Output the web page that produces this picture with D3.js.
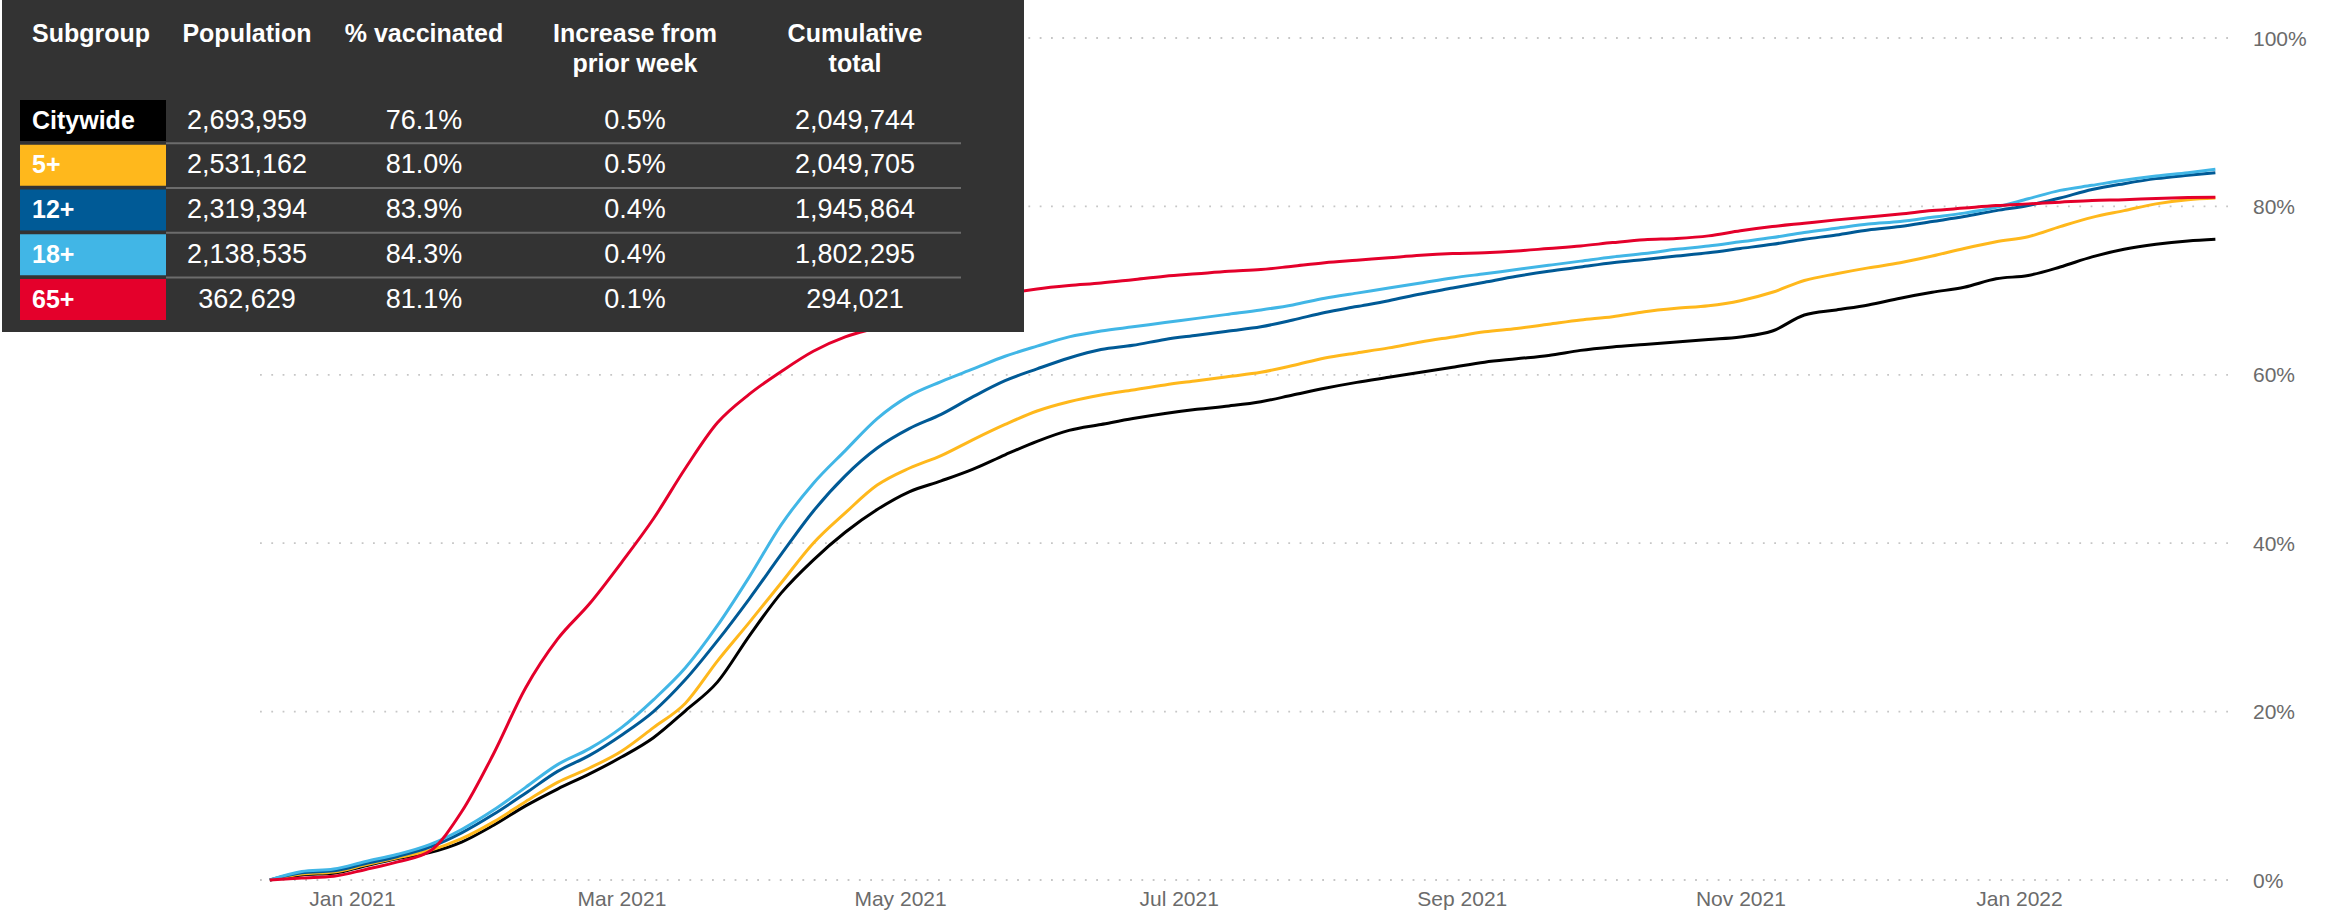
<!DOCTYPE html>
<html><head><meta charset="utf-8">
<script src="https://cdn.jsdelivr.net/npm/d3@7"></script>
<style>html,body{margin:0;padding:0;background:#fff;} svg{display:block;}</style>
</head><body>
<svg id="chart" width="2331" height="913"></svg>
<script>
// ---------- DATA ----------
const dates = [
 "2020-12-14","2020-12-21","2020-12-28",
 "2021-01-04","2021-01-11","2021-01-18","2021-01-25",
 "2021-02-01","2021-02-08","2021-02-15","2021-02-22",
 "2021-03-01","2021-03-08","2021-03-15","2021-03-22","2021-03-29",
 "2021-04-05","2021-04-12","2021-04-19","2021-04-26",
 "2021-05-03","2021-05-10","2021-05-17","2021-05-24","2021-05-31",
 "2021-06-07","2021-06-14","2021-06-21","2021-06-28",
 "2021-07-05","2021-07-12","2021-07-19","2021-07-26",
 "2021-08-02","2021-08-09","2021-08-16","2021-08-23","2021-08-30",
 "2021-09-06","2021-09-13","2021-09-20","2021-09-27",
 "2021-10-04","2021-10-11","2021-10-18","2021-10-25",
 "2021-11-01","2021-11-08","2021-11-15","2021-11-22","2021-11-29",
 "2021-12-06","2021-12-13","2021-12-20","2021-12-27",
 "2022-01-03","2022-01-10","2022-01-17","2022-01-24","2022-01-31",
 "2022-02-07","2022-02-13"
];
const citywide = [
 0,0.6,0.8,
 1.7,2.55,3.25,4.5,
 6.5,8.8,10.8,12.6,
 14.6,16.9,20.1,23.5,29.0,
 34.1,38.0,41.3,44.0,
 46.1,47.4,48.8,50.5,52.1,
 53.4,54.1,54.8,55.4,
 55.9,56.3,56.8,57.6,
 58.4,59.1,59.7,60.3,60.9,
 61.5,61.9,62.3,62.9,
 63.3,63.6,63.9,64.2,
 64.5,65.2,67.1,67.7,68.3,
 69.1,69.8,70.4,71.4,
 71.8,72.8,74.0,74.9,75.5,
 75.9,76.1
];
const age5 = [
 0,0.7,0.95,
 1.8,2.65,3.5,4.9,
 6.9,9.3,11.6,13.3,
 15.3,18.1,21.0,26.0,30.6,
 35.3,40.0,43.6,46.9,
 48.9,50.4,52.3,54.1,55.7,
 56.8,57.6,58.2,58.8,
 59.3,59.8,60.3,61.1,
 62.0,62.6,63.2,63.9,64.5,
 65.1,65.5,66.0,66.5,
 66.9,67.5,67.9,68.2,
 68.8,69.8,71.2,72.0,72.7,
 73.3,74.1,75.0,75.8,
 76.4,77.6,78.7,79.5,80.3,
 80.8,81.0
];
const age12 = [
 0,0.85,1.1,
 1.95,2.8,3.9,5.6,
 7.8,10.3,12.9,14.8,
 17.2,20.0,23.8,28.4,33.4,
 38.7,43.8,48.0,51.3,
 53.6,55.3,57.4,59.3,60.7,
 62.0,63.0,63.5,64.2,
 64.7,65.2,65.7,66.5,
 67.4,68.1,68.8,69.6,70.3,
 71.0,71.7,72.3,72.8,
 73.3,73.7,74.1,74.5,
 75.0,75.5,76.1,76.6,77.2,
 77.6,78.2,78.8,79.5,
 80.1,81.0,82.0,82.7,83.3,
 83.7,84.0
];
const age18 = [
 0,1.0,1.3,
 2.2,3.05,4.2,6.0,
 8.3,11.0,13.7,15.6,
 18.1,21.4,25.2,30.2,36.0,
 42.2,47.1,51.0,54.8,
 57.5,59.2,60.7,62.2,63.4,
 64.5,65.2,65.7,66.2,
 66.7,67.2,67.7,68.3,
 69.1,69.7,70.3,70.9,71.5,
 72.0,72.5,73.0,73.5,
 74.0,74.4,74.9,75.3,
 75.8,76.3,76.9,77.4,77.9,
 78.2,78.7,79.2,79.9,
 80.9,81.9,82.5,83.1,83.6,
 84.0,84.4
];
const age65 = [
 0,0.25,0.45,
 1.25,2.15,3.4,8.1,
 15.0,22.8,28.6,32.8,
 37.7,42.9,48.9,54.3,57.7,
 60.4,62.8,64.5,65.6,
 66.7,67.8,68.8,69.6,70.2,
 70.6,70.9,71.3,71.7,
 72.0,72.3,72.5,72.9,
 73.3,73.6,73.9,74.2,74.4,
 74.5,74.7,75.0,75.3,
 75.7,76.05,76.2,76.5,
 77.1,77.6,78.0,78.4,78.75,
 79.1,79.5,79.8,80.1,
 80.3,80.5,80.7,80.8,80.95,
 81.05,81.1
];
const yTicks = [0, 20, 40, 60, 80, 100];
const xTickDates = ["2021-01-01","2021-03-01","2021-05-01","2021-07-01","2021-09-01","2021-11-01","2022-01-01"];

// table data
const tableHeaders = [["Subgroup"],["Population"],["% vaccinated"],["Increase from","prior week"],["Cumulative","total"]];
const subgroups = ["Citywide","5+","12+","18+","65+"];
const population = ["2,693,959","2,531,162","2,319,394","2,138,535","362,629"];
const pctVaccinated = ["76.1%","81.0%","83.9%","84.3%","81.1%"];
const weeklyIncrease = ["0.5%","0.5%","0.4%","0.4%","0.1%"];
const cumulativeTotal = ["2,049,744","2,049,705","1,945,864","1,802,295","294,021"];

// ---------- STYLE ----------
const colors = {"Citywide":"#000000","5+":"#FFB81C","12+":"#005A96","18+":"#41B6E6","65+":"#E4002B"};
const FONT = "'Liberation Sans', Arial, Helvetica, sans-serif";

const svg = d3.select("#chart");
svg.append("rect").attr("width",2331).attr("height",913).attr("fill","#fff");

const parse = d3.timeParse("%Y-%m-%d");
const x = d3.scaleTime().domain([parse("2021-01-01"), parse("2022-01-01")]).range([352, 2019]);
const y = d3.scaleLinear().domain([0, 100]).range([880, 38]);
const plotLeft = 260, plotRight = 2233;

// gridlines
svg.append("g").selectAll("line").data(yTicks).join("line")
  .attr("x1", plotLeft).attr("x2", plotRight)
  .attr("y1", d => y(d)).attr("y2", d => y(d))
  .attr("stroke", "#c6c6c6").attr("stroke-width", 1.8)
  .attr("stroke-dasharray", "1.8 9.5");

// y labels
svg.append("g").selectAll("text").data(yTicks).join("text")
  .attr("x", 2253).attr("y", d => y(d)).attr("dy", "0.36em")
  .attr("font-family", FONT).attr("font-size", 21).attr("fill", "#6b6b6b")
  .text(d => d + "%");

// x axis
const xAxis = d3.axisBottom(x)
  .tickValues(xTickDates.map(parse))
  .tickFormat(d3.timeFormat("%b %Y"))
  .tickSize(0);
const gx = svg.append("g").attr("transform", "translate(0,880)").call(xAxis);
gx.select(".domain").remove();
gx.selectAll("text").attr("y", 26).attr("dy", 0)
  .attr("font-family", FONT).attr("font-size", 21).attr("fill", "#6b6b6b");

// lines
const seriesList = [
  {name:"Citywide", values: citywide},
  {name:"5+", values: age5},
  {name:"12+", values: age12},
  {name:"18+", values: age18},
  {name:"65+", values: age65}
];
const line = d3.line()
  .x(d => x(d.date)).y(d => y(d.v))
  .curve(d3.curveMonotoneX);
svg.append("g").selectAll("path").data(seriesList).join("path")
  .attr("fill", "none")
  .attr("stroke", d => colors[d.name])
  .attr("stroke-width", 3)
  .attr("stroke-linejoin", "round")
  .attr("d", s => line(s.values.map((v, i) => ({date: parse(dates[i]), v}))));

// ---------- TABLE ----------
const tbl = svg.append("g");
tbl.append("rect").attr("x", 2).attr("y", 0).attr("width", 1022).attr("height", 332).attr("fill", "#333333");

const colX = [32, 247, 424, 635, 855];
tableHeaders.forEach((lines, c) => {
  lines.forEach((t, li) => {
    tbl.append("text")
      .attr("x", colX[c]).attr("y", 42 + li * 30)
      .attr("text-anchor", c === 0 ? "start" : "middle")
      .attr("font-family", FONT).attr("font-size", 25).attr("font-weight", "bold")
      .attr("fill", "#ffffff").text(t);
  });
});

const rowTop = i => 100 + i * 44.75;
subgroups.forEach((g, i) => {
  const top = rowTop(i);
  if (i > 0) {
    tbl.append("line").attr("x1", 166).attr("x2", 961)
      .attr("y1", top - 1.6).attr("y2", top - 1.6)
      .attr("stroke", "#6c6c6c").attr("stroke-width", 2);
  }
  tbl.append("rect").attr("x", 20).attr("y", top).attr("width", 146).attr("height", 41)
    .attr("fill", colors[g]);
  tbl.append("text").attr("x", 32).attr("y", top + 28.5)
    .attr("font-family", FONT).attr("font-size", 25).attr("font-weight", "bold")
    .attr("fill", "#ffffff").text(g);
  [population[i], pctVaccinated[i], weeklyIncrease[i], cumulativeTotal[i]].forEach((v, c) => {
    tbl.append("text").attr("x", colX[c + 1]).attr("y", top + 28.5)
      .attr("text-anchor", "middle")
      .attr("font-family", FONT).attr("font-size", 27)
      .attr("fill", "#ffffff").text(v);
  });
});
</script>
</body></html>
